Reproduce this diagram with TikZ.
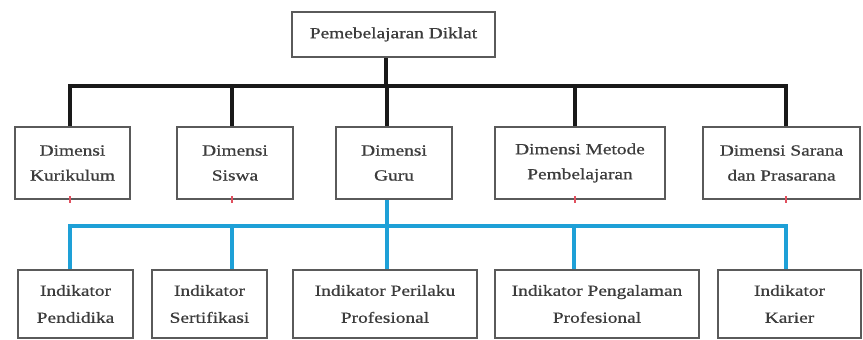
\documentclass[tikz,border=0pt]{standalone}
\usepackage{fontspec}
\setmainfont[FakeStretch=1.25,FakeBold=0.8]{Liberation Serif}
\begin{document}
\begin{tikzpicture}[x=1pt,y=-1pt,
  box/.style={draw=boxgray,line width=2.4pt,align=center,inner sep=0pt,
    text=txtgray,font=\fontsize{15.5}{25}\selectfont},
  blk/.style={line width=3.6pt,draw=black!90},
  blu/.style={line width=3.6pt,draw=lineblue},
  tick/.style={line width=1.6pt,draw=tickred}]
\definecolor{boxgray}{RGB}{90,90,90}
\definecolor{txtgray}{RGB}{60,60,60}
\definecolor{lineblue}{RGB}{30,160,215}
\definecolor{tickred}{RGB}{225,80,95}
\useasboundingbox (0,0) rectangle (863,340);
% top
\node[box,minimum width=203pt,minimum height=45pt] (top) at (393.5,34.5) {Pemebelajaran Diklat};
% dimensions
\node[box,minimum width=115pt,minimum height=72pt] (d1) at (72.5,163) {Dimensi\\Kurikulum};
\node[box,minimum width=116pt,minimum height=72pt] (d2) at (235,163) {Dimensi\\Siswa};
\node[box,minimum width=116pt,minimum height=72pt] (d3) at (394,163) {Dimensi\\Guru};
\node[box,minimum width=170pt,minimum height=72pt] (d4) at (580,163) {Dimensi Metode\\Pembelajaran};
\node[box,minimum width=157pt,minimum height=72pt] (d5) at (781.5,163) {Dimensi Sarana\\dan Prasarana};
% indicators
\node[box,minimum width=115pt,minimum height=68pt,font=\fontsize{15.5}{27}\selectfont] (i1) at (75.5,304) {Indikator\\Pendidika};
\node[box,minimum width=115pt,minimum height=68pt,font=\fontsize{15.5}{27}\selectfont] (i2) at (209.5,304) {Indikator\\Sertifikasi};
\node[box,minimum width=184pt,minimum height=68pt,font=\fontsize{15.5}{27}\selectfont] (i3) at (385,304) {Indikator Perilaku\\Profesional};
\node[box,minimum width=204pt,minimum height=68pt,font=\fontsize{15.5}{27}\selectfont] (i4) at (597,304) {Indikator Pengalaman\\Profesional};
\node[box,minimum width=143pt,minimum height=68pt,font=\fontsize{15.5}{27}\selectfont] (i5) at (789.5,304) {Indikator\\Karier};
% black bus
\coordinate (t0) at (386,86);
\coordinate (k1) at (70,86);
\coordinate (k2) at (232,86);
\coordinate (k3) at (387,86);
\coordinate (k4) at (575,86);
\coordinate (k5) at (786,86);
\draw[blk] (top.south -| t0) -- (t0);
\draw[blk,line cap=rect] (k1) -- (k5);
\foreach \k/\d in {k1/d1,k2/d2,k3/d3,k4/d4,k5/d5}
  \draw[blk] (\k) -- (\k |- \d.north);
% blue bus
\coordinate (b0) at (387,226);
\coordinate (b1) at (70,226);
\coordinate (b2) at (232,226);
\coordinate (b3) at (387,226);
\coordinate (b4) at (574,226);
\coordinate (b5) at (786,226);
\draw[blu] (d3.south -| b0) -- (b0);
\draw[blu,line cap=rect] (b1) -- (b5);
\foreach \b/\i in {b1/i1,b2/i2,b3/i3,b4/i4,b5/i5}
  \draw[blu] (\b) -- (\b |- \i.north);
% small red ticks under dimension boxes
\foreach \d/\x in {d1/70,d2/232,d4/575,d5/786}
  \draw[tick] ([yshift=4pt]\d.south -| \x,0) -- ++(0,7);
\end{tikzpicture}
\end{document}
